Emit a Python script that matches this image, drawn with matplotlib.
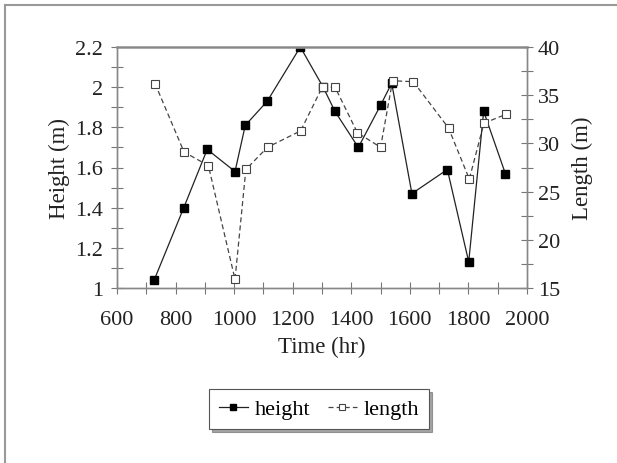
import matplotlib
matplotlib.use("Agg")
import matplotlib.pyplot as plt
from matplotlib.ticker import MultipleLocator
from matplotlib.lines import Line2D

# values
time_h = [727, 828, 908, 1003, 1038, 1113, 1226, 1304, 1344, 1424, 1500, 1538, 1607, 1728, 1801, 1852, 1926]
height = [1.04, 1.40, 1.69, 1.58, 1.81, 1.93, 2.20, 2.00, 1.88, 1.70, 1.91, 2.02, 1.47, 1.59, 1.13, 1.88, 1.57]
time_l = [730, 829, 912, 1003, 1040, 1114, 1227, 1302, 1345, 1421, 1500, 1541, 1612, 1732, 1803, 1853, 1927]
length = [36.2, 29.1, 27.7, 15.9, 27.3, 29.6, 31.3, 35.9, 35.8, 31.1, 29.6, 36.5, 36.4, 31.6, 26.3, 32.1, 33.0]

plt.rcParams['font.family'] = ['Liberation Serif', 'DejaVu Serif']
plt.rcParams['font.size'] = 16

fig = plt.figure(figsize=(6.17, 4.64), dpi=100)
W, H = 617, 464
ax = fig.add_axes([117 / W, 1 - 289 / H, 410 / W, 241 / H])
ax2 = ax.twinx()

ax.plot(time_h, height, color='#222222', lw=0.9, marker='s', ms=5.5,
        mfc='black', mec='black')
ax2.plot(time_l, length, color='#444444', lw=0.9, ls=(0, (4, 2.5)), marker='s', ms=5.5,
         mfc='white', mec='#444444', mew=0.8)

ax.set_xlim(600, 2000)
ax.set_ylim(1, 2.2)
ax2.set_ylim(15, 40)
ax.xaxis.set_major_locator(MultipleLocator(200))
ax.xaxis.set_minor_locator(MultipleLocator(100))
ax.yaxis.set_major_locator(MultipleLocator(0.2))
ax.yaxis.set_minor_locator(MultipleLocator(0.1))
ax2.yaxis.set_major_locator(MultipleLocator(5))
ax2.yaxis.set_minor_locator(MultipleLocator(2.5))
ax.yaxis.set_major_formatter(plt.FuncFormatter(lambda v, p: f"{v:g}"))

for a in (ax, ax2):
    a.tick_params(which='both', direction='inout', length=8, width=0.8,
                  color='#777777', labelcolor='#222222', labelsize=16)
    for s in a.spines.values():
        s.set_color('#888888')
        s.set_linewidth(1.0)
ax.spines['top'].set_linewidth(1.8)
ax.spines['top'].set_color('#999999')
ax.tick_params(axis='x', which='both', top=False, pad=12)
ax.tick_params(axis='y', pad=6)
ax2.tick_params(axis='y', pad=4)

ax.set_xlabel('Time (hr)', fontsize=16.5, color='#222222', labelpad=5)
ax.set_ylabel('Height (m)', fontsize=16.5, color='#222222', labelpad=4)
ax2.set_ylabel('Length (m)', fontsize=16.5, color='#222222', labelpad=8)

h1 = Line2D([], [], color='#222222', lw=0.9, marker='s', ms=5, mfc='black', mec='black')
h2 = Line2D([], [], color='#444444', lw=0.9, ls=(0, (4, 2.5)), marker='s', ms=5,
            mfc='white', mec='#444444', mew=0.8)
leg = fig.legend([h1, h2], ['height', 'length'], loc='center',
                 bbox_to_anchor=(319 / W, 1 - 410 / H), ncol=2, fontsize=16,
                 frameon=True, fancybox=False, shadow=True, handlelength=1.3,
                 handletextpad=0.3, columnspacing=0.8, borderpad=0.45)
leg.get_frame().set_edgecolor('#555555')
leg.get_frame().set_linewidth(0.8)

# thin grey frame round the picture
fig.add_artist(Line2D([5 / W, 5 / W], [0, 1 - 6 / H], transform=fig.transFigure,
                      color='#999999', lw=1.5))
fig.add_artist(Line2D([5 / W, 1], [1 - 6 / H, 1 - 6 / H], transform=fig.transFigure,
                      color='#999999', lw=1.5))

fig.savefig('out.png', dpi=100)
